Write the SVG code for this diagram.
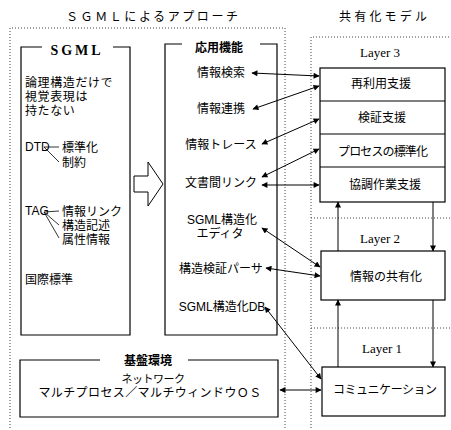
<svg xmlns="http://www.w3.org/2000/svg" width="451" height="430" viewBox="0 0 451 430">
<defs>
<marker id="ah" viewBox="0 0 10 10" refX="9" refY="5" markerWidth="7" markerHeight="6" markerUnits="userSpaceOnUse" orient="auto-start-reverse"><path d="M0,0 L10,5 L0,10 z" fill="#000"/></marker>
<style>
.dot{fill:none;stroke:#444;stroke-width:1;stroke-dasharray:1,2}
.box{fill:none;stroke:#000;stroke-width:1.2}
.jp{font-family:"Liberation Sans","Noto Sans CJK JP",sans-serif;font-size:12px;fill:#000}
.c{text-anchor:middle}
.ser{font-family:"Liberation Serif",serif;fill:#000}
.ar{fill:none;stroke:#000;stroke-width:1;marker-start:url(#ah);marker-end:url(#ah)}
.up{fill:none;stroke:#000;stroke-width:1;marker-end:url(#ah)}
</style>
</defs>
<rect width="451" height="430" fill="#fff"/>

<g id="frames">
<path class="dot" d="M10,440 L10,28 L285,28 L285,440"/>
<path class="dot" d="M311,440 L311,37 L451,37"/>
<path class="dot" d="M311,218 L451,218 M311,328 L451,328"/>
</g>

<g id="titles">
<text class="jp c" x="152" y="21" font-size="14" textLength="172" lengthAdjust="spacing">ＳＧＭＬによるアプローチ</text>
<text class="jp c" x="383" y="21" font-size="14" textLength="88" lengthAdjust="spacing">共有化モデル</text>
</g>

<g id="sgml">
<path class="box" d="M42,47 L21,47 L21,335 L130,335 L130,47 L113,47"/>
<text class="ser c" x="77" y="55" font-size="14" font-weight="bold" letter-spacing="3">SGML</text>
<text class="jp" font-size="11.5" letter-spacing="0.6"><tspan x="25" y="87">論理構造だけで</tspan><tspan x="25" y="101">視覚表現は</tspan><tspan x="25" y="115">持たない</tspan></text>
<text class="jp" x="25" y="151" font-size="9">DTD</text>
<path fill="none" stroke="#000" stroke-width="0.8" d="M59,147 L44,147 L59,162"/>
<text class="jp"><tspan x="62" y="152">標準化</tspan><tspan x="62" y="167">制約</tspan></text>
<text class="jp" x="25" y="215" font-size="9">TAG</text>
<path fill="none" stroke="#000" stroke-width="0.8" d="M59,211 L44,212 L59,225 M44,212 L59,238"/>
<text class="jp"><tspan x="62" y="216">情報リンク</tspan><tspan x="62" y="230">構造記述</tspan><tspan x="62" y="244">属性情報</tspan></text>
<text class="jp" x="25" y="284">国際標準</text>
</g>

<g id="bigarrow">
<polygon points="134,176 148,176 148,162 163,184 148,206 148,192 134,192" fill="#fff" stroke="#000" stroke-width="1"/>
</g>

<g id="apps">
<path class="box" d="M182,44 L165,44 L165,335 L277,335 L277,44 L260,44"/>
<text class="jp c" x="219" y="52" font-size="14" font-weight="bold">応用機能</text>
<text class="jp c" x="221" y="77">情報検索</text>
<text class="jp c" x="221" y="113">情報連携</text>
<text class="jp c" x="221" y="149">情報トレース</text>
<text class="jp c" x="221" y="187">文書間リンク</text>
<text class="jp c"><tspan x="222" y="224">SGML構造化</tspan><tspan x="220" y="238">エディタ</tspan></text>
<text class="jp c" x="221" y="273">構造検証パーサ</text>
<text class="jp c" x="222" y="311" font-size="11">SGML構造化DB</text>
</g>

<g id="base">
<path class="box" d="M100,360 L20,360 L20,417 L278,417 L278,360 L188,360"/>
<text class="jp c" x="148" y="365" font-size="14" font-weight="bold">基盤環境</text>
<text class="jp c"><tspan x="153" y="383" font-size="11" letter-spacing="-0.5">ネットワーク</tspan><tspan x="150" y="397" letter-spacing="0.4">マルチプロセス／マルチウィンドウＯＳ</tspan></text>
</g>

<g id="layer3">
<text class="ser c" x="380" y="57" font-size="13">Layer 3</text>
<rect class="box" x="320" y="68" width="125" height="134"/>
<path class="box" d="M320,101 L445,101 M320,134 L445,134 M320,167 L445,167"/>
<text class="jp c" x="381" y="88">再利用支援</text>
<text class="jp c" x="382" y="122">検証支援</text>
<text class="jp c" x="383" y="156" textLength="90" lengthAdjust="spacing">プロセスの標準化</text>
<text class="jp c" x="385" y="189">協調作業支援</text>
</g>

<g id="layer2">
<text class="ser c" x="380" y="243" font-size="13">Layer 2</text>
<rect class="box" x="321" y="251" width="124" height="49"/>
<text class="jp c" x="386" y="281">情報の共有化</text>
</g>

<g id="layer1">
<text class="ser c" x="382" y="353" font-size="13">Layer 1</text>
<rect class="box" x="322" y="367" width="123" height="49"/>
<text class="jp c" x="385" y="394" textLength="104" lengthAdjust="spacing">コミュニケーション</text>
</g>

<g id="connectors">
<path class="ar" d="M252,73 L319,76"/>
<path class="ar" d="M253,109 L319,86"/>
<path class="ar" d="M262,144 L319,119"/>
<path class="ar" d="M262,177 L319,149"/>
<path class="ar" d="M262,185 L319,185"/>
<path class="ar" d="M262,228 L320,267"/>
<path class="ar" d="M266,268 L320,276"/>
<path class="ar" d="M265,307 L321,379"/>
<path class="ar" d="M280,390 L321,390"/>
<path class="up" d="M338,251 L338,202"/>
<path class="up" d="M433,202 L433,251"/>
<path class="up" d="M338,367 L338,300"/>
<path class="up" d="M433,300 L433,367"/>
</g>
</svg>
